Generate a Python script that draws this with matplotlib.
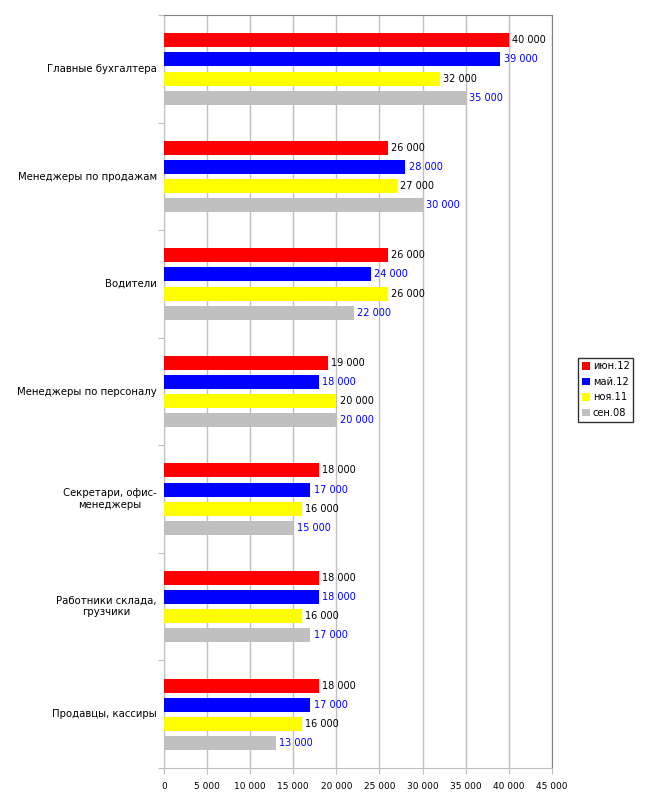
import matplotlib.pyplot as plt
import numpy as np

categories = ['Главные бухгалтера', 'Менеджеры по продажам', 'Водители',
              'Менеджеры по персоналу', 'Секретари, офис-\nменеджеры',
              'Работники склада,\nгрузчики', 'Продавцы, кассиры']
series_names = ['июн.12', 'май.12', 'ноя.11', 'сен.08']
jun12 = [40000, 26000, 26000, 19000, 18000, 18000, 18000]
may12 = [39000, 28000, 24000, 18000, 17000, 18000, 17000]
nov11 = [32000, 27000, 26000, 20000, 16000, 16000, 16000]
sep08 = [35000, 30000, 22000, 20000, 15000, 17000, 13000]

colors = ['#FF0000', '#0000FF', '#FFFF00', '#C0C0C0']
label_colors = ['black', '#0000FF', 'black', '#0000FF']


def fmt(v):
    return f'{int(v):,}'.replace(',', ' ')


plt.rcParams['font.family'] = ['DejaVu Sans']
fig = plt.figure(figsize=(6.5, 8), dpi=100)
ax = fig.add_axes([0.252, 0.04, 0.597, 0.941])

n = len(categories)
centers = np.arange(n)[::-1] + 0.5
step = 0.178
height = 0.13
offsets = np.array([-1.5, -0.5, 0.5, 1.5]) * step

for i, vals in enumerate([jun12, may12, nov11, sep08]):
    ypos = centers - offsets[i]
    ax.barh(ypos, vals, height=height, color=colors[i], label=series_names[i], zorder=3)
    for y, v in zip(ypos, vals):
        ax.text(v + 400, y, fmt(v), va='center', ha='left', fontsize=7,
                color=label_colors[i], zorder=4)

ax.set_xlim(0, 45000)
ax.set_ylim(0, n)
ax.set_xticks(np.arange(0, 45001, 5000))
ax.set_xticklabels([fmt(t) for t in np.arange(0, 45001, 5000)], fontsize=6.5)
ax.xaxis.grid(True, color='#C0C0C0', linewidth=1, zorder=0)
ax.set_yticks(np.arange(0, n + 1))
ax.set_yticklabels([])
ax.tick_params(axis='y', length=4, color='#C0C0C0', direction='out')
ax.tick_params(axis='x', length=4, color='#C0C0C0', direction='out', pad=6)
for c, lab in zip(centers, categories):
    ax.text(-0.018, c, lab, transform=ax.get_yaxis_transform(), ha='right', va='center',
            multialignment='center', fontsize=7.3)

ax.spines['left'].set_color('#C0C0C0')
ax.spines['bottom'].set_color('#C0C0C0')
ax.spines['top'].set_color('#808080')
ax.spines['right'].set_color('#808080')

leg = fig.legend(loc='center left', bbox_to_anchor=(0.889, 0.513), fontsize=7.1,
                 frameon=True, fancybox=False, edgecolor='black', handlelength=0.8,
                 handleheight=0.8, handletextpad=0.3, borderpad=0.4, labelspacing=0.55,
                 borderaxespad=0)
leg.get_frame().set_linewidth(1)

fig.savefig('out.png', dpi=100)
